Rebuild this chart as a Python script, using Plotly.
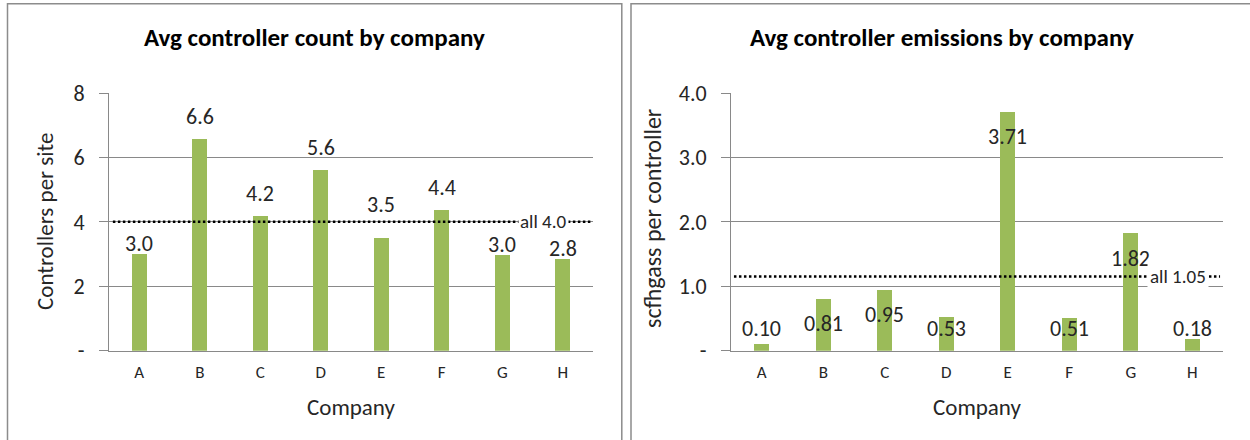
import plotly.graph_objects as go

# ---------------- data ----------------
companies = ["A", "B", "C", "D", "E", "F", "G", "H"]
count_per_site = [3.0, 6.58, 4.18, 5.61, 3.49, 4.36, 2.96, 2.84]
count_all = 4.0
count_all_label = "all 4.0"
count_ticks = [0, 2, 4, 6, 8]
count_ticktext = ["-", "2", "4", "6", "8"]

emis_per_ctrl = [0.10, 0.81, 0.95, 0.53, 3.71, 0.51, 1.82, 0.18]
emis_all = 1.15
emis_all_label = "all 1.05"
emis_ticks = [0, 1, 2, 3, 4]
emis_ticktext = ["-", "1.0", "2.0", "3.0", "4.0"]

# ---------------- style ----------------
W, H = 1250, 440
FONT = "Carlito, Calibri, Lato, sans-serif"
BAR = "#9BBB59"
GRID = "#898989"
TXT = "#262626"

def px_x(p):
    return p / W

def px_y(p):
    return (H - p) / H

fig = go.Figure()

fig.add_trace(go.Bar(
    x=companies, y=count_per_site, xaxis="x", yaxis="y",
    marker=dict(color=BAR, line=dict(width=0)), width=0.25,
    hoverinfo="skip", showlegend=False,
))
fig.add_trace(go.Bar(
    x=companies, y=emis_per_ctrl, xaxis="x2", yaxis="y2",
    marker=dict(color=BAR, line=dict(width=0)), width=0.25,
    hoverinfo="skip", showlegend=False,
))

annotations = []

# count labels: above the bar; kept clear of the average line
for c, v in zip(companies, count_per_site):
    if v >= count_all:
        ly = v + 0.7
    else:
        ly = v + 0.33
        if abs(ly - count_all) < 0.5:
            ly = count_all + 0.53
    annotations.append(dict(
        x=c, y=ly, xref="x", yref="y", text=f"{v:.1f}",
        showarrow=False, font=dict(family=FONT, size=22, color=TXT),
        xanchor="center", yanchor="middle"))

# emission labels: inside end, but not lower than a floor
for c, v in zip(companies, emis_per_ctrl):
    annotations.append(dict(
        x=c, y=max(v - 0.39, 0.34), xref="x2", yref="y2", text=f"{v:.2f}",
        showarrow=False, font=dict(family=FONT, size=22, color=TXT),
        xanchor="center", yanchor="middle"))

ydom = [px_y(350.7), px_y(93)]
common_y = dict(
    showgrid=True, gridcolor=GRID, gridwidth=1, showline=True, linecolor=GRID,
    linewidth=1, ticks="outside", ticklen=9, tickcolor=GRID, zeroline=False,
    tickfont=dict(family=FONT, size=22, color=TXT), ticklabelstandoff=10,
    fixedrange=True, automargin=False,
)
common_x = dict(
    showgrid=False, showline=True, linecolor=GRID, linewidth=1, ticks="",
    tickfont=dict(family=FONT, size=17, color=TXT), ticklabelstandoff=6,
    fixedrange=True, range=[-0.5, 7.5], automargin=False,
)

fig.update_layout(
    width=W, height=H, margin=dict(l=0, r=0, t=0, b=0, pad=0, autoexpand=False),
    paper_bgcolor="white", plot_bgcolor="white",
    font=dict(family=FONT, color=TXT),
    xaxis=dict(domain=[px_x(109), px_x(593)], anchor="y", **common_x),
    yaxis=dict(domain=ydom, anchor="x", range=[0, 8], tickvals=count_ticks,
               ticktext=count_ticktext, **common_y),
    xaxis2=dict(domain=[px_x(731), px_x(1223)], anchor="y2", **common_x),
    yaxis2=dict(domain=ydom, anchor="x2", range=[0, 4], tickvals=emis_ticks,
                ticktext=emis_ticktext, **common_y),
    bargap=0,
)

def note(x, y, text, size, **kw):
    d = dict(x=px_x(x), y=px_y(y), xref="paper", yref="paper", text=text,
             showarrow=False, xanchor="center", yanchor="middle",
             font=dict(family=FONT, size=size, color=kw.pop("color", TXT)))
    d.update(kw)
    return d

# titles
annotations += [
    note(314, 38, "<b>Avg controller count by company</b>", 25, color="black"),
    note(942, 38, "<b>Avg controller emissions by company</b>", 25, color="black"),
    note(351, 407, "Company", 23),
    note(977, 407, "Company", 23),
    note(45, 221, "Controllers per site", 23, textangle=-90),
    note(653, 219, "scfhgass per controller", 24, textangle=-90),
    # average labels over dotted lines
    dict(x=0.897, y=count_all, xref="x domain", yref="y", text=count_all_label,
         showarrow=False, bgcolor="white", borderpad=1, xanchor="center",
         yanchor="middle", font=dict(family=FONT, size=19, color=TXT)),
    dict(x=0.909, y=emis_all, xref="x2 domain", yref="y2", text=emis_all_label,
         showarrow=False, bgcolor="white", borderpad=2, xanchor="center",
         yanchor="middle", font=dict(family=FONT, size=19, color=TXT)),
]

shapes = [
    dict(type="line", xref="x domain", yref="y", x0=0.008, x1=0.995,
         y0=count_all, y1=count_all,
         line=dict(color="black", width=2.5, dash="2.5px,2.5px"), layer="above"),
    dict(type="line", xref="x2 domain", yref="y2", x0=0.006, x1=0.994,
         y0=emis_all, y1=emis_all,
         line=dict(color="black", width=2.5, dash="2.5px,2.5px"), layer="above"),
    dict(type="rect", xref="paper", yref="paper", x0=px_x(7.5), x1=px_x(621.8),
         y0=-0.05, y1=px_y(3.8), line=dict(color="#8C8C8C", width=1.5), layer="below"),
    dict(type="rect", xref="paper", yref="paper", x0=px_x(631), x1=1.05,
         y0=-0.05, y1=px_y(3.8), line=dict(color="#8C8C8C", width=1.5), layer="below"),
]

fig.update_layout(annotations=annotations, shapes=shapes)
fig.write_html("out.html")
